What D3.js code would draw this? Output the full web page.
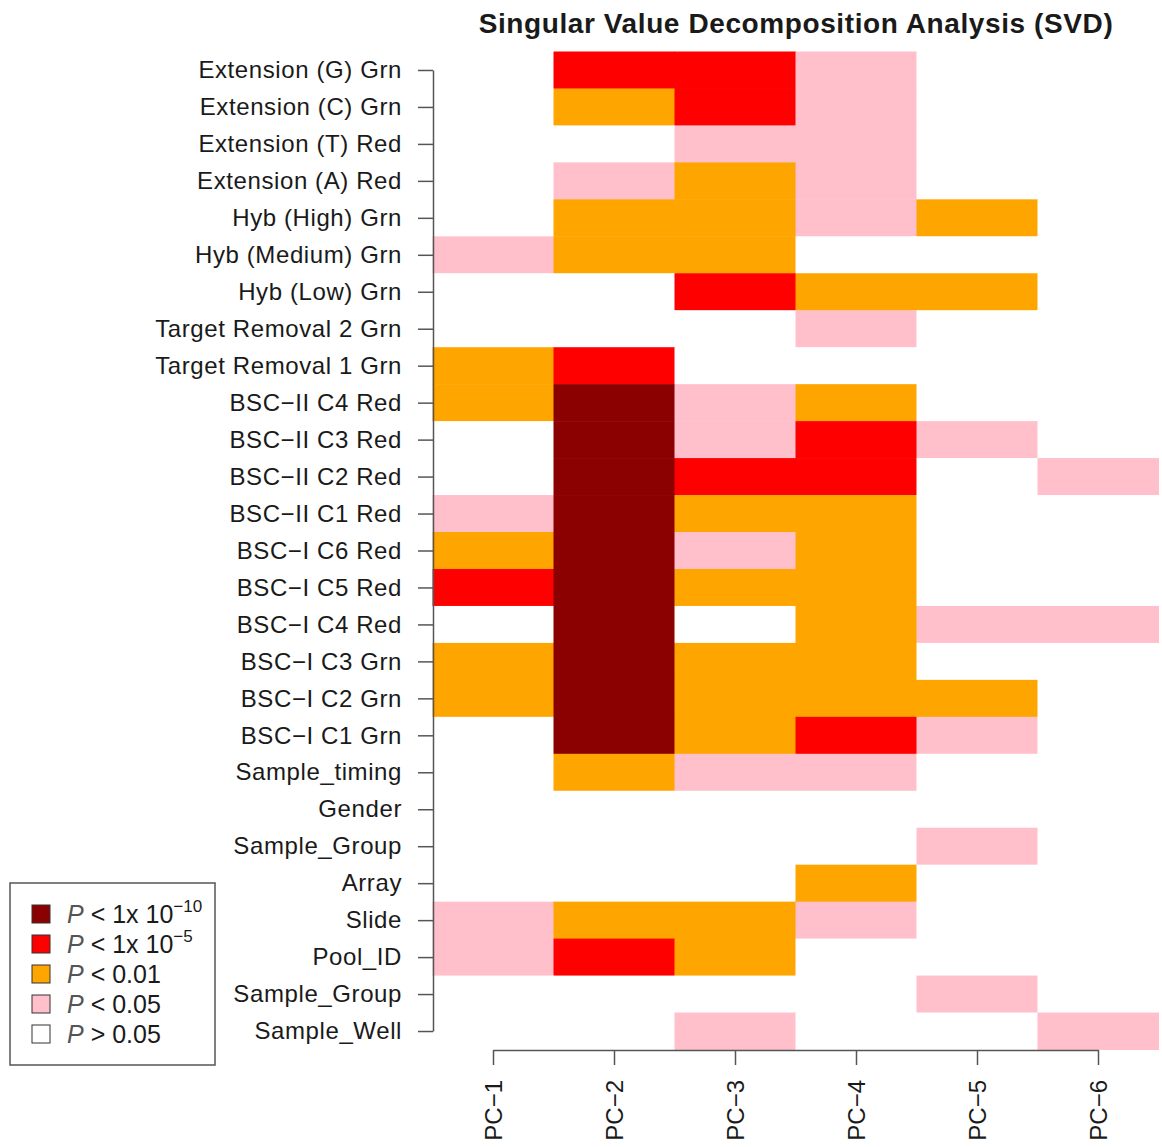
<!DOCTYPE html>
<html>
<head>
<meta charset="utf-8">
<script src="https://cdn.jsdelivr.net/npm/d3@7"></script>
<style>
  body { margin: 0; background: #fff; }
  text { font-family: "Liberation Sans", Arial, sans-serif; fill: #1a1a1a; }
</style>
</head>
<body>
<svg width="1162" height="1147"></svg>
<script>
// rows top to bottom
var rowLabels = ["Extension (G) Grn", "Extension (C) Grn", "Extension (T) Red", "Extension (A) Red",
  "Hyb (High) Grn", "Hyb (Medium) Grn", "Hyb (Low) Grn", "Target Removal 2 Grn", "Target Removal 1 Grn",
  "BSC\u2212II C4 Red", "BSC\u2212II C3 Red", "BSC\u2212II C2 Red", "BSC\u2212II C1 Red",
  "BSC\u2212I C6 Red", "BSC\u2212I C5 Red", "BSC\u2212I C4 Red", "BSC\u2212I C3 Grn", "BSC\u2212I C2 Grn", "BSC\u2212I C1 Grn",
  "Sample_timing", "Gender", "Sample_Group", "Array", "Slide", "Pool_ID", "Sample_Group", "Sample_Well"];
var pcLabels = ["PC\u22121", "PC\u22122", "PC\u22123", "PC\u22124", "PC\u22125", "PC\u22126"];

// significance level per cell: 4 = P<1e-10, 3 = P<1e-5, 2 = P<0.01, 1 = P<0.05, 0 = n.s.
var levels = [
  [0, 3, 3, 1, 0, 0],
  [0, 2, 3, 1, 0, 0],
  [0, 0, 1, 1, 0, 0],
  [0, 1, 2, 1, 0, 0],
  [0, 2, 2, 1, 2, 0],
  [1, 2, 2, 0, 0, 0],
  [0, 0, 3, 2, 2, 0],
  [0, 0, 0, 1, 0, 0],
  [2, 3, 0, 0, 0, 0],
  [2, 4, 1, 2, 0, 0],
  [0, 4, 1, 3, 1, 0],
  [0, 4, 3, 3, 0, 1],
  [1, 4, 2, 2, 0, 0],
  [2, 4, 1, 2, 0, 0],
  [3, 4, 2, 2, 0, 0],
  [0, 4, 0, 2, 1, 1],
  [2, 4, 2, 2, 0, 0],
  [2, 4, 2, 2, 2, 0],
  [0, 4, 2, 3, 1, 0],
  [0, 2, 1, 1, 0, 0],
  [0, 0, 0, 0, 0, 0],
  [0, 0, 0, 0, 1, 0],
  [0, 0, 0, 2, 0, 0],
  [1, 2, 2, 1, 0, 0],
  [1, 3, 2, 0, 0, 0],
  [0, 0, 0, 0, 1, 0],
  [0, 0, 1, 0, 0, 1]
];

var levelColors = ["#FFFFFF", "#FFC0CB", "#FFA500", "#FF0000", "#8B0000"];
var legendLevels = [4, 3, 2, 1, 0];
var legendOps = ["<", "<", "<", "<", ">"];
var legendVals = ["1x 10", "1x 10", "0.01", "0.05", "0.05"];
var legendExps = ["\u221210", "\u22125", "", "", ""];

var svg = d3.select("svg");

var x = d3.scaleBand().domain(d3.range(pcLabels.length)).range([432.5, 1158.5]);
var y = d3.scaleBand().domain(d3.range(rowLabels.length)).range([51.5, 1049.5]);
var color = d3.scaleOrdinal().domain([0, 1, 2, 3, 4]).range(levelColors);

var cells = [];
levels.forEach(function(row, i) {
  row.forEach(function(v, j) { cells.push({r: i, c: j, v: v}); });
});

svg.append("g").selectAll("rect")
  .data(cells)
  .enter().append("rect")
    .attr("x", function(d) { return x(d.c); })
    .attr("y", function(d) { return y(d.r); })
    .attr("width", x.bandwidth() + 0.5)
    .attr("height", y.bandwidth() + 0.5)
    .attr("fill", function(d) { return color(d.v); });

// y axis (left)
var yAxis = svg.append("g")
  .attr("transform", "translate(433,0)")
  .call(d3.axisLeft(d3.scalePoint().domain(d3.range(rowLabels.length))
      .range([y(0) + y.bandwidth() / 2, y(rowLabels.length - 1) + y.bandwidth() / 2]))
    .tickSize(15).tickPadding(16).tickSizeOuter(0)
    .tickFormat(function(i) { return rowLabels[i]; }));
yAxis.select(".domain").attr("stroke", "#555").attr("stroke-width", 1.5);
yAxis.selectAll(".tick line").attr("stroke", "#555").attr("stroke-width", 1.5);
yAxis.selectAll("text")
  .style("font-size", "24px")
  .style("letter-spacing", "0.6px")
  .attr("fill", "#1a1a1a");

// x axis (bottom)
var xAxis = svg.append("g")
  .attr("transform", "translate(0,1050)")
  .call(d3.axisBottom(d3.scalePoint().domain(d3.range(pcLabels.length))
      .range([x(0) + x.bandwidth() / 2, x(pcLabels.length - 1) + x.bandwidth() / 2]))
    .tickSize(15).tickSizeOuter(0)
    .tickFormat(function(i) { return pcLabels[i]; }));
xAxis.select(".domain").attr("stroke", "#555").attr("stroke-width", 1.5);
xAxis.selectAll(".tick line").attr("stroke", "#555").attr("stroke-width", 1.5);
xAxis.selectAll("text")
  .style("font-size", "24px")
  .attr("fill", "#1a1a1a")
  .attr("text-anchor", "end")
  .attr("transform", "rotate(-90)")
  .attr("dy", "0.35em")
  .attr("y", 0)
  .attr("x", -30);

// title
svg.append("text")
  .attr("x", 796)
  .attr("y", 33)
  .attr("text-anchor", "middle")
  .style("font-size", "28px")
  .style("font-weight", "bold")
  .style("letter-spacing", "0.6px")
  .text("Singular Value Decomposition Analysis (SVD)");

// legend
var legend = svg.append("g").attr("transform", "translate(10,883)");
legend.append("rect")
  .attr("width", 205).attr("height", 182)
  .attr("fill", "#fff").attr("stroke", "#555").attr("stroke-width", 1.5);

var items = legend.selectAll(".item")
  .data(legendLevels)
  .enter().append("g")
    .attr("class", "item")
    .attr("transform", function(d, i) { return "translate(0," + (31 + i * 30) + ")"; });

items.append("rect")
  .attr("x", 22).attr("y", -9)
  .attr("width", 18).attr("height", 18)
  .attr("fill", function(d) { return color(d); })
  .attr("stroke", "#333");

var lt = items.append("text")
  .attr("x", 57).attr("y", 9)
  .style("font-size", "25px");
lt.append("tspan").style("font-style", "italic").attr("fill", "#555").text("P");
lt.append("tspan").text(function(d, i) { return " " + legendOps[i] + " " + legendVals[i]; });
lt.append("tspan")
  .attr("dy", -11)
  .style("font-size", "17px")
  .text(function(d, i) { return legendExps[i]; });
</script>
</body>
</html>
